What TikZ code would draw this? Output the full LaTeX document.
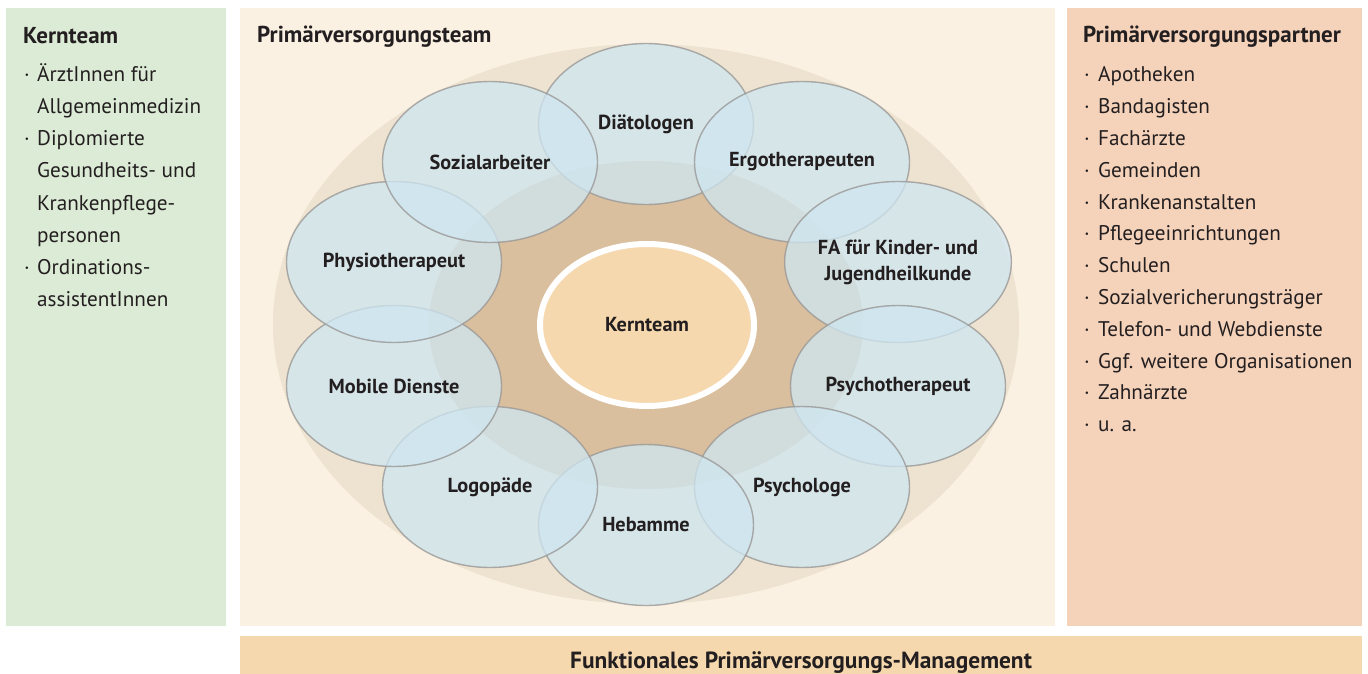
\documentclass[tikz,border=0pt]{standalone}
\usepackage{fontspec}
\setmainfont{PT Sans}
\usetikzlibrary{shapes.geometric}

\definecolor{kerngreen}{HTML}{DCEBD5}
\definecolor{teambg}{HTML}{FBF1E3}
\definecolor{partnerbg}{HTML}{F5D2BA}
\definecolor{mgmtbg}{HTML}{F5D8AE}
\definecolor{outerring}{HTML}{EDE3D0}
\definecolor{innerring}{HTML}{D9BF9E}
\definecolor{kernfill}{HTML}{F5D8AE}
\definecolor{satfill}{HTML}{CFE6F1}
\definecolor{satline}{HTML}{9A9896}
\definecolor{txt}{HTML}{231F20}

\tikzset{
  head/.style={anchor=base west, inner sep=0, text=txt, font=\fontsize{23}{27}\selectfont\bfseries},
  item/.style={anchor=base west, inner sep=0, text=txt, font=\fontsize{21.2}{25}\selectfont},
  sat/.style={ellipse, draw=satline, fill=satfill, fill opacity=0.75, draw opacity=0.8, text opacity=1,
    line width=1.4pt, minimum width=215pt, minimum height=161pt, inner sep=0, align=center,
    text=txt, font=\fontsize{20.3}{26}\selectfont\bfseries}
}

\begin{document}
\begin{tikzpicture}[x=1pt,y=-1pt]
  \useasboundingbox (0,0) rectangle (1368,674);
  % panels
  \fill[kerngreen] (6,8) rectangle (226,626);
  \fill[teambg] (240,8) rectangle (1055,626);
  \fill[partnerbg] (1067,8) rectangle (1362,626);
  \fill[mgmtbg] (240,636) rectangle (1362,674);

  % left list
  \node[head] (kh) at (23,44) {Kernteam};
  \foreach \t [count=\i] in {{\makebox[13pt][l]{·}ÄrztInnen für},
      {\hspace*{13pt}Allgemeinmedizin}, {\makebox[13pt][l]{·}Diplomierte},
      {\hspace*{13pt}Gesundheits- und}, {\hspace*{13pt}Krankenpflege-},
      {\hspace*{13pt}personen}, {\makebox[13pt][l]{·}Ordinations-},
      {\hspace*{13pt}assistentInnen}}
    \node[item] (k\i) at (24,50+32*\i) {\t};

  % right list
  \node[head] (ph) at (1083,43) {Primärversorgungspartner};
  \foreach \t [count=\i] in {Apotheken, Bandagisten, Fachärzte, Gemeinden,
      Krankenanstalten, Pflegeeinrichtungen, Schulen, Sozialvericherungsträger,
      Telefon- und Webdienste, Ggf. weitere Organisationen, Zahnärzte, u. a.}
    \node[item] (p\i) at (1084,50+31.8*\i) {\makebox[14pt][l]{·}\t};

  % team
  \node[head] (th) at (257,43) {Primärversorgungsteam};
  \fill[outerring] (646,324) ellipse (373 and 280);
  \fill[innerring] (646,325) ellipse (217 and 164);
  \node[ellipse, fill=kernfill, draw=white, line width=6pt, minimum width=214pt,
    minimum height=162pt, text=txt, font=\fontsize{20.3}{24}\selectfont\bfseries] (kern) at (647,325) {Kernteam};
  \foreach \n/\x/\y/\t in {dia/646/124/Diätologen, ergo/802/162/Ergotherapeuten,
      fa/898/262/{FA für Kinder- und\\Jugendheilkunde}, psyt/898/386/Psychotherapeut,
      psyl/802/487/Psychologe, heb/646/525/Hebamme, logo/490/487/Logopäde,
      mob/394/386/Mobile Dienste, phys/394/262/Physiotherapeut, soz/490/162/Sozialarbeiter}
    \node[sat] (\n) at (\x,\y) {\t};

  % management
  \node[anchor=base, inner sep=0, text=txt, font=\fontsize{23.4}{27}\selectfont\bfseries] (mg) at (801,668) {Funktionales Primärversorgungs-Management};
\end{tikzpicture}
\end{document}
